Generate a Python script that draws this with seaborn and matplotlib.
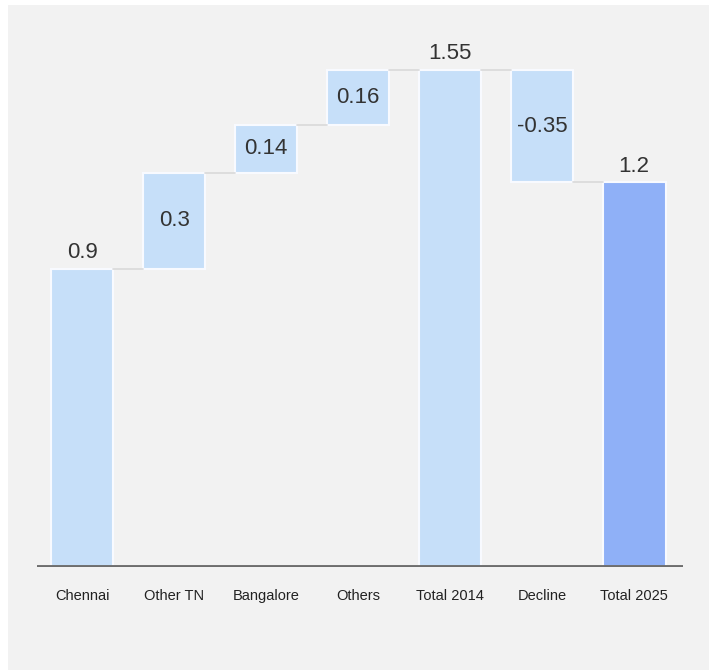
import numpy as np
import pandas as pd
import seaborn as sns
import matplotlib.pyplot as plt
from matplotlib.patches import Rectangle

# Waterfall data
categories = ["Chennai", "Other TN", "Bangalore", "Others", "Total 2014", "Decline", "Total 2025"]
changes = [0.93, 0.30, 0.15, 0.17, None, -0.35, None]  # None = total bar
value_labels = ["0.9", "0.3", "0.14", "0.16", "1.55", "-0.35", "1.2"]

light_blue = "#c6dff9"
dark_blue = "#8fb0f7"

# build bottoms / heights
bottoms, heights, ends = [], [], []
running = 0.0
for c in changes:
    if c is None:
        bottoms.append(0.0)
        heights.append(running)
    else:
        bottoms.append(running)
        heights.append(c)
        running += c
    ends.append(running)

df = pd.DataFrame({"category": categories, "height": heights, "bottom": bottoms})

sns.set_style("white")
plt.rcParams["font.family"] = ["Liberation Sans", "DejaVu Sans"]

fig = plt.figure(figsize=(7.09, 6.7), dpi=100, facecolor="white")
fig.patches.append(Rectangle((8 / 709, -0.1), 1.2, 1.1 - 5 / 670, transform=fig.transFigure,
                             facecolor="#f2f2f2", edgecolor="none", zorder=-10))
ax = fig.add_axes([37 / 709, 103 / 670, 646 / 709, 537 / 670])
ax.set_facecolor("none")

width = 0.68
sns.barplot(data=df, x="category", y="height", bottom=df["bottom"].values,
            color=light_blue, width=width, errorbar=None, saturation=1,
            edgecolor="#f8faff", linewidth=1.5, ax=ax)
ax.patches[-1].set_facecolor(dark_blue)

# connector lines
for i in range(len(categories) - 1):
    ax.plot([i + width / 2, i + 1 - width / 2], [ends[i], ends[i]],
            color="#d9d9d9", lw=1.2, zorder=1)

# value labels
for i, (b, h, lab) in enumerate(zip(bottoms, heights, value_labels)):
    if b == 0:
        ax.text(i, h + 0.018, lab, ha="center", va="bottom", fontsize=16, color="#333333")
    else:
        ax.text(i, b + h / 2, lab, ha="center", va="center", fontsize=16, color="#333333")

ax.axhline(0, color="#6e6e6e", lw=2.8, zorder=3)
ax.set_xlim(-0.49, 6.53)
ax.set_ylim(0, 1.675)
ax.set_xlabel("")
ax.set_ylabel("")
ax.set_yticks([])
ax.tick_params(axis="x", length=0, pad=16, labelsize=10.5, labelcolor="#222222")
sns.despine(ax=ax, left=True, bottom=True)

plt.savefig("out.png", dpi=100, facecolor=fig.get_facecolor())
